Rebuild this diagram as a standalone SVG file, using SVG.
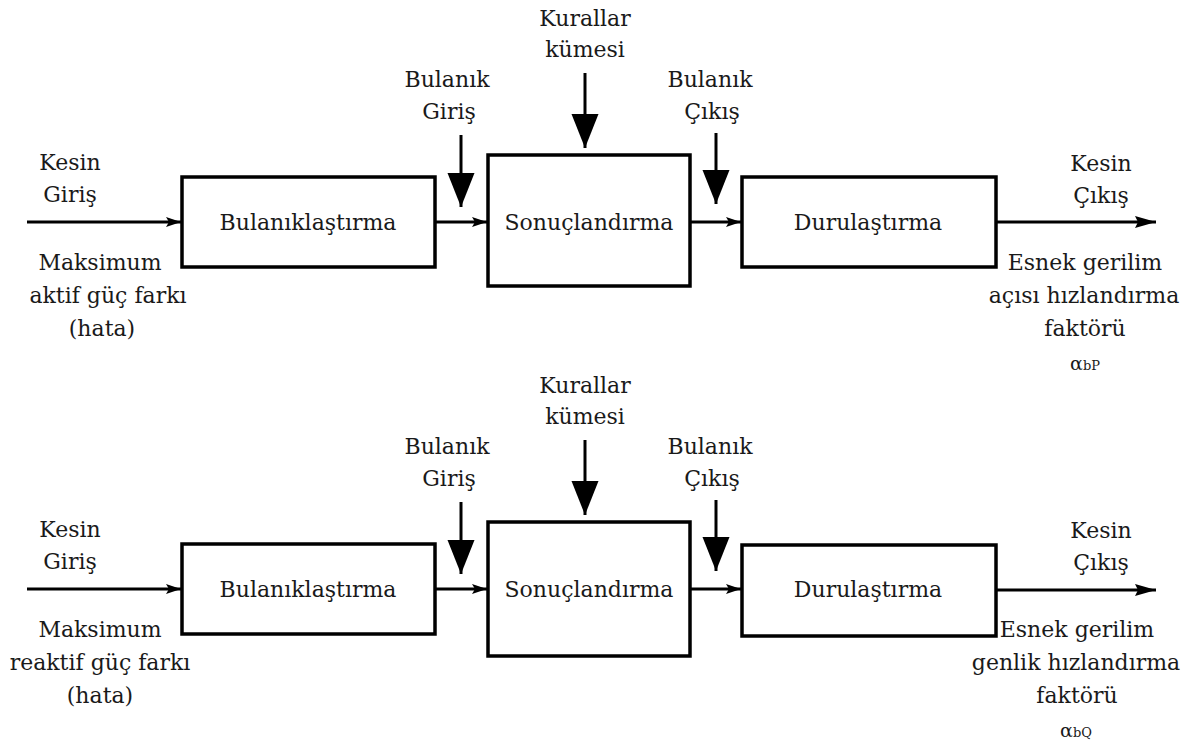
<svg xmlns="http://www.w3.org/2000/svg" width="1199" height="744" viewBox="0 0 1199 744">
  <style>
    text { font-family: "DejaVu Serif", serif; font-size: 22px; fill: #1a1a1a; text-anchor: middle; }
    .box { fill: #ffffff; stroke: #000000; stroke-width: 3.5; }
    .wire { stroke: #000000; stroke-width: 3; fill: none; }
    .alpha { font-size: 19px; }
    .sub { font-size: 13px; }
  </style>
  <defs>
    <marker id="tip" markerUnits="userSpaceOnUse" markerWidth="16" markerHeight="12" refX="15" refY="6" orient="auto">
      <path d="M0,1 L15,6 L0,11 L3,6 z" fill="#000"/>
    </marker>
    <marker id="tipOut" markerUnits="userSpaceOnUse" markerWidth="22" markerHeight="14" refX="21" refY="7" orient="auto">
      <path d="M0,1 L21,7 L0,13 L3,7 z" fill="#000"/>
    </marker>
    <marker id="bigTip" markerUnits="userSpaceOnUse" markerWidth="36" markerHeight="28" refX="34" refY="14" orient="auto">
      <path d="M0,0.5 L34,14 L0,27.5 z" fill="#000"/>
    </marker>
  </defs>

  <rect width="1199" height="744" fill="#ffffff"/>

  <!-- Active power controller (upper chain) -->
  <g id="upper">
    <g id="u-fuzzify">
      <rect class="box" x="182" y="177" width="253" height="90"/>
      <text x="308" y="230">Bulanıklaştırma</text>
    </g>
    <g id="u-inference">
      <rect class="box" x="488" y="155" width="202" height="131"/>
      <text x="589" y="230">Sonuçlandırma</text>
    </g>
    <g id="u-defuzzify">
      <rect class="box" x="742" y="177" width="254" height="90"/>
      <text x="868" y="230">Durulaştırma</text>
    </g>
    <g id="u-labels">
      <text x="70" y="170">Kesin</text>
      <text x="70" y="202">Giriş</text>
      <text x="100" y="270">Maksimum</text>
      <text x="108" y="303">aktif güç farkı</text>
      <text x="102" y="336">(hata)</text>
      <text x="585" y="26">Kurallar</text>
      <text x="585" y="57">kümesi</text>
      <text x="447" y="87">Bulanık</text>
      <text x="449" y="119">Giriş</text>
      <text x="710" y="87">Bulanık</text>
      <text x="712" y="119">Çıkış</text>
      <text x="1101" y="171">Kesin</text>
      <text x="1101" y="203">Çıkış</text>
      <text x="1085" y="270">Esnek gerilim</text>
      <text x="1084" y="303">açısı hızlandırma</text>
      <text x="1085" y="336">faktörü</text>
      <text x="1085" y="370"><tspan class="alpha">α</tspan><tspan class="sub">bP</tspan></text>
    </g>
  </g>

  <!-- Reactive power controller (lower chain) -->
  <g id="lower">
    <g id="l-fuzzify">
      <rect class="box" x="182" y="544" width="253" height="90"/>
      <text x="308" y="597">Bulanıklaştırma</text>
    </g>
    <g id="l-inference">
      <rect class="box" x="488" y="522" width="202" height="134"/>
      <text x="589" y="597">Sonuçlandırma</text>
    </g>
    <g id="l-defuzzify">
      <rect class="box" x="742" y="545" width="254" height="91"/>
      <text x="868" y="597">Durulaştırma</text>
    </g>
    <g id="l-labels">
      <text x="70" y="537">Kesin</text>
      <text x="70" y="569">Giriş</text>
      <text x="100" y="637">Maksimum</text>
      <text x="100" y="670">reaktif güç farkı</text>
      <text x="100" y="703">(hata)</text>
      <text x="585" y="393">Kurallar</text>
      <text x="585" y="424">kümesi</text>
      <text x="447" y="454">Bulanık</text>
      <text x="449" y="486">Giriş</text>
      <text x="710" y="454">Bulanık</text>
      <text x="712" y="486">Çıkış</text>
      <text x="1101" y="538">Kesin</text>
      <text x="1101" y="570">Çıkış</text>
      <text x="1077" y="637">Esnek gerilim</text>
      <text x="1076" y="670">genlik hızlandırma</text>
      <text x="1077" y="703">faktörü</text>
      <text x="1076" y="737"><tspan class="alpha">α</tspan><tspan class="sub">bQ</tspan></text>
    </g>
  </g>

  <!-- Signal flow -->
  <g id="connectors">
    <line class="wire" x1="27" y1="222" x2="181" y2="222" marker-end="url(#tip)"/>
    <line class="wire" x1="435" y1="222" x2="487" y2="222" marker-end="url(#tip)"/>
    <line class="wire" x1="690" y1="222" x2="741" y2="222" marker-end="url(#tip)"/>
    <line class="wire" x1="996" y1="222" x2="1156" y2="222" marker-end="url(#tipOut)"/>
    <line class="wire" x1="461" y1="135" x2="461" y2="207" marker-end="url(#bigTip)"/>
    <line class="wire" x1="585" y1="73" x2="585" y2="148" marker-end="url(#bigTip)"/>
    <line class="wire" x1="716" y1="133" x2="716" y2="204" marker-end="url(#bigTip)"/>

    <line class="wire" x1="27" y1="589" x2="181" y2="589" marker-end="url(#tip)"/>
    <line class="wire" x1="435" y1="589" x2="487" y2="589" marker-end="url(#tip)"/>
    <line class="wire" x1="690" y1="589" x2="741" y2="589" marker-end="url(#tip)"/>
    <line class="wire" x1="996" y1="590" x2="1156" y2="590" marker-end="url(#tipOut)"/>
    <line class="wire" x1="461" y1="502" x2="461" y2="574" marker-end="url(#bigTip)"/>
    <line class="wire" x1="585" y1="440" x2="585" y2="515" marker-end="url(#bigTip)"/>
    <line class="wire" x1="716" y1="500" x2="716" y2="571" marker-end="url(#bigTip)"/>
  </g>
</svg>
